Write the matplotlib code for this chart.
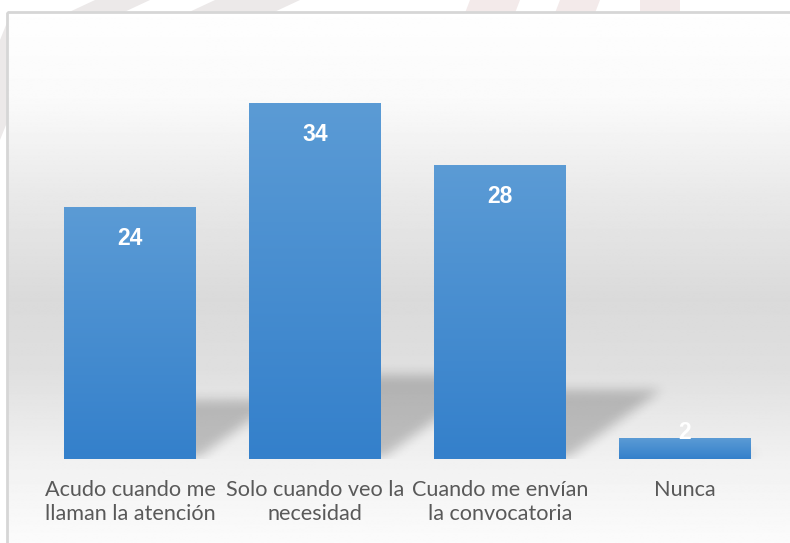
import numpy as np
import matplotlib
matplotlib.use("Agg")
import matplotlib.pyplot as plt
from matplotlib.colors import LinearSegmentedColormap
from matplotlib.patches import Polygon, Rectangle
from matplotlib.path import Path

categories = ["Acudo cuando me\nllaman la atención",
              "Solo cuando veo la\nnecesidad",
              "Cuando me envían\nla convocatoria",
              "Nunca"]
values = [24, 34, 28, 2]

W, H = 790, 543
fig = plt.figure(figsize=(W / 100, H / 100), dpi=100)
fig.patch.set_facecolor("white")

# ---- background (pixel coordinates) ----
bg = fig.add_axes([0, 0, 1, 1])
bg.axis("off")

for pts in [[(95, 0), (150, 0), (120, 14), (65, 14)],
            [(215, 0), (300, 0), (270, 14), (185, 14)],
            [(0, 40), (8, 20), (8, 120), (0, 140)]]:
    bg.add_patch(Polygon(pts, closed=True, facecolor="#ece9e9", edgecolor="none", zorder=0))
for pts in [[(470, 0), (520, 0), (515, 13), (465, 13)],
            [(560, 0), (600, 0), (595, 13), (555, 13)],
            [(640, 0), (680, 0), (680, 13), (640, 13)]]:
    bg.add_patch(Polygon(pts, closed=True, facecolor="#f3eaea", edgecolor="none", zorder=0))

ys = np.array([12, 100, 200, 300, 370, 460, 543])
gs = np.array([0.997, 0.98, 0.91, 0.855, 0.875, 0.945, 0.985])
yy = np.linspace(12, 543, 400)
col = np.interp(yy, ys, gs)
grad = np.repeat(col[:, None], 2, axis=1)
bg.imshow(grad, cmap="gray", vmin=0, vmax=1, extent=[8, W, 543, 12],
          aspect="auto", zorder=1, interpolation="bilinear")
bg.add_patch(Rectangle((7, 12), W, H, facecolor="none", edgecolor="#d6d6d6",
                       linewidth=2, zorder=2))
bg.set_xlim(0, W)
bg.set_ylim(H, 0)

# ---- main chart ----
base_px = 459
px_per_unit = 10.47
ymax = 40
ax_w_px = 740
ax_h_px = ymax * px_per_unit
ax = fig.add_axes([37.5 / W, (H - base_px) / H, ax_w_px / W, ax_h_px / H])
ax.patch.set_alpha(0)
x = np.arange(len(values))
bw = 132 / 185
ncat = len(values)
unit_x_px = ax_w_px / ncat

# blurred perspective shadows rasterised on a pixel grid of the axes
gw, gh = int(ax_w_px), int(ax_h_px)
gx = np.linspace(-0.5, ncat - 0.5, gw)
gy = np.linspace(0, ymax, gh)
GX, GY = np.meshgrid(gx, gy)
pts_grid = np.column_stack([GX.ravel(), GY.ravel()])
mask = np.zeros(gw * gh)
for xi, v in zip(x, values):
    hs = v * 0.235
    sk = (hs * px_per_unit / 0.72) / unit_x_px
    poly = Path([(xi - bw / 2, 0), (xi + bw / 2, 0),
                 (xi + bw / 2 + sk, hs), (xi - bw / 2 + sk, hs)])
    mask = np.maximum(mask, poly.contains_points(pts_grid).astype(float))
mask = mask.reshape(gh, gw)


def box_blur(a, r, axis):
    k = np.ones(2 * r + 1) / (2 * r + 1)
    return np.apply_along_axis(lambda m: np.convolve(m, k, mode="same"), axis, a)


for _ in range(2):
    mask = box_blur(mask, 6, 0)
    mask = box_blur(mask, 6, 1)
shadow = np.zeros((gh, gw, 4))
shadow[..., 3] = mask * 0.21
ax.imshow(shadow, extent=[-0.5, ncat - 0.5, 0, ymax], origin="lower",
          aspect="auto", zorder=1, interpolation="bilinear")

bar_cmap = LinearSegmentedColormap.from_list("b", ["#3480cb", "#5b9bd5"])
bar_grad = np.linspace(0, 1, 200)[:, None]

for xi, v in zip(x, values):
    ax.imshow(bar_grad, cmap=bar_cmap, extent=[xi - bw / 2, xi + bw / 2, 0, v],
              origin="lower", aspect="auto", zorder=3, vmin=0, vmax=1)
    off = -31 if v >= 5 else 6
    ax.annotate(str(v), xy=(xi, v), xytext=(0, off * 0.72), textcoords="offset points",
                ha="center", va="center", color="white", fontsize=16.5,
                fontweight="bold", family=["Liberation Sans", "DejaVu Sans"], zorder=5)

ax.set_xlim(-0.5, ncat - 0.5)
ax.set_ylim(0, ymax)
ax.set_xticks(x)
ax.set_xticklabels(categories, fontsize=15.6, color="#595959",
                   family=["Lato", "DejaVu Sans"], linespacing=1.25)
ax.tick_params(axis="x", length=0, pad=15)
ax.set_yticks([])
for s in ax.spines.values():
    s.set_visible(False)

fig.savefig("out.png", dpi=100)
